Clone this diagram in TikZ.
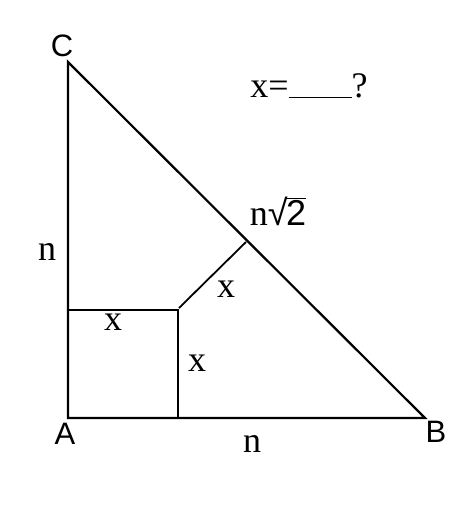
\documentclass[tikz,border=0pt]{standalone}
\usepackage{fontspec}
\setmainfont{Liberation Serif}
\newfontfamily\lblfont{Liberation Sans}
\usetikzlibrary{calc}

\tikzset{
  vlabel/.style={font=\lblfont\fontsize{31}{31}\selectfont, inner sep=0pt},
  slabel/.style={font=\fontsize{36}{36}\selectfont, inner sep=0pt}
}
\newcommand{\roottwo}{{\lblfont √\kern-1.5pt\vbox{\hrule height 1.6pt\kern0.5pt\hbox{2}}}}

\begin{document}
\begin{tikzpicture}[x=1pt,y=-1pt, line width=2.2pt]
     \useasboundingbox (0,0) rectangle (474,515);
     \coordinate (A) at (68,418);
     \coordinate (B) at (425,418);
     \coordinate (C) at (68,62);
     \coordinate (sq1) at (178,418);
     \coordinate (sq2) at (178,310);
     \coordinate (sq3) at (68,310);
     \coordinate (foot) at (246,242);
     \coordinate (tip) at (179,308);

     \draw (A) -- (B) -- (C) -- cycle;
     \draw (sq3) -- (sq2) -- (sq1);
     \draw[line width=1.8pt] (tip) -- (foot);

     \node[vlabel, name=lA] at (65,434){A};
     \node[vlabel, name=lB] at (436,432){B};
     \node[vlabel, name=lC] at (62,46){C};
     \node[slabel, name=nl] at (47,252){n};
     \node[slabel, name=nb] at (252,444){n};
     \node[slabel, name=hyp] at (278,211){n\roottwo};
     \node[slabel, name=xt] at (113,322){x};
     \node[slabel, name=xr] at (197,363){x};
     \node[slabel, name=xd] at (226,289){x};
     \node[slabel, name=q] at (309,86){x=\rule[-1pt]{1.75em}{1pt}?};
  \end{tikzpicture}
\end{document}
